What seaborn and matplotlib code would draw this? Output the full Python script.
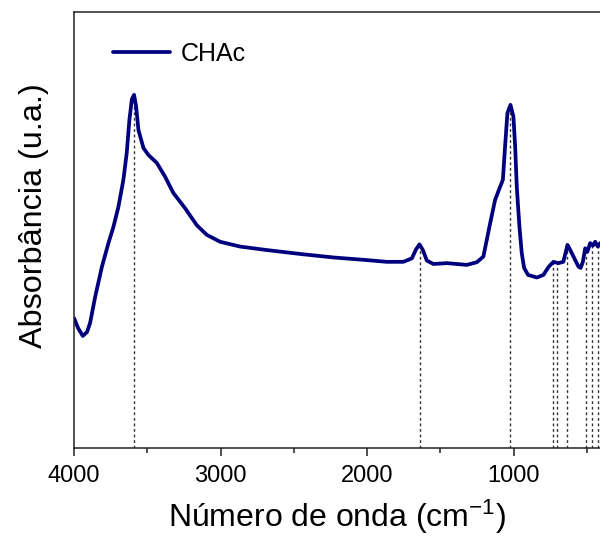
import numpy as np
import matplotlib
matplotlib.use("Agg")
import matplotlib.pyplot as plt
import seaborn as sns

# FTIR spectrum (wavenumber in cm-1, absorbance in a.u.)
wavenumber = [
    4000, 3972, 3940, 3911, 3890, 3856, 3810, 3765, 3731, 3697, 3663, 3640,
    3622, 3605, 3590, 3576, 3560, 3526, 3492, 3435, 3378, 3322, 3242, 3162,
    3094, 3003, 2866, 2684, 2455, 2229, 2001, 1865, 1752, 1694, 1665, 1642,
    1619, 1592, 1547, 1455, 1319, 1251, 1206, 1183, 1160, 1126, 1092, 1073,
    1058, 1042, 1021, 1001, 989, 978, 960, 944, 928, 901, 841, 796, 762,
    728, 694, 660, 632, 619, 591, 557, 542, 527, 511, 496, 477, 459, 443,
    425, 409,
]
absorbance = [
    0.298, 0.275, 0.257, 0.266, 0.287, 0.346, 0.415, 0.470, 0.507, 0.553,
    0.615, 0.677, 0.752, 0.800, 0.810, 0.783, 0.729, 0.688, 0.672, 0.654,
    0.622, 0.585, 0.550, 0.511, 0.489, 0.473, 0.462, 0.454, 0.445, 0.437,
    0.431, 0.427, 0.427, 0.435, 0.456, 0.467, 0.454, 0.430, 0.422, 0.424,
    0.420, 0.426, 0.439, 0.477, 0.515, 0.569, 0.599, 0.615, 0.691, 0.768,
    0.787, 0.760, 0.691, 0.599, 0.508, 0.447, 0.413, 0.397, 0.391, 0.397,
    0.415, 0.427, 0.424, 0.427, 0.466, 0.458, 0.439, 0.416, 0.413, 0.427,
    0.458, 0.450, 0.470, 0.464, 0.473, 0.462, 0.470,
]

# marked band positions (dotted drop lines)
band_positions = [3590, 1638, 1021, 728, 701, 632, 505, 466, 427]

sample_label = "CHAc"
x_major = [4000, 3000, 2000, 1000]
x_minor = [3500, 2500, 1500, 500]

sns.set_style("ticks")
plt.rcParams["font.family"] = ["Liberation Sans", "DejaVu Sans"]
plt.rcParams["mathtext.fontset"] = "custom"
plt.rcParams["mathtext.rm"] = "Liberation Sans"
plt.rcParams["mathtext.it"] = "Liberation Sans:italic"
plt.rcParams["text.color"] = "black"
plt.rcParams["axes.labelcolor"] = "black"
plt.rcParams["xtick.color"] = "black"

fig = plt.figure(figsize=(6.0, 5.38), dpi=100)
ax = fig.add_axes([74 / 600, 90 / 538, 526 / 600, 436 / 538])

sns.lineplot(
    x=wavenumber, y=absorbance, sort=False, color="#00007f",
    linewidth=2.7, label=sample_label, ax=ax,
)

# drop lines from the curve down to the axis
wn_inc = np.array(wavenumber)[::-1]
ab_inc = np.array(absorbance)[::-1]
tops = np.interp(band_positions, wn_inc, ab_inc)
ax.vlines(band_positions, 0, tops, colors="#333333",
          linestyles=(0, (2, 2)), linewidth=1.0, zorder=1)

ax.set_xlim(4000, 410)
ax.set_ylim(0, 1.0)
ax.set_xticks(x_major)
ax.set_xticks(x_minor, minor=True)
ax.set_yticks([])
ax.tick_params(axis="x", which="major", direction="out", length=6,
               width=1.1, labelsize=17, pad=6, color="#222222")
ax.tick_params(axis="x", which="minor", direction="out", length=3.5,
               width=1.1, color="#222222")
for side in ["left", "bottom", "top"]:
    ax.spines[side].set_visible(True)
    ax.spines[side].set_linewidth(1.1)
    ax.spines[side].set_color("#222222")
ax.spines["right"].set_visible(False)

ax.set_xlabel("Número de onda (cm$^{-1}$)", fontsize=23, labelpad=8)
ax.set_ylabel("Absorbância (u.a.)", fontsize=23.3, labelpad=18)
ax.yaxis.label.set_y(0.532)

ax.legend(loc="upper left", frameon=False, fontsize=18, handlelength=2.3,
          handletextpad=0.4, borderaxespad=0.0,
          bbox_to_anchor=(0.055, 0.955))

fig.savefig("out.png", dpi=100)
